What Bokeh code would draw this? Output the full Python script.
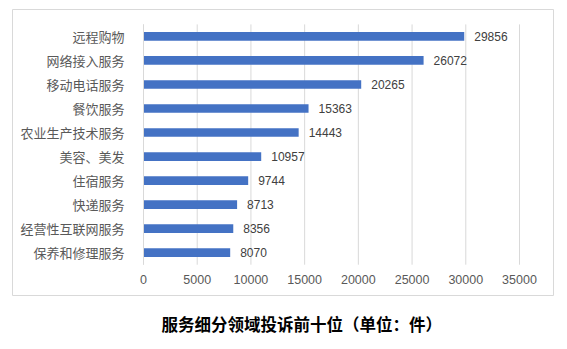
from bokeh.plotting import figure
from bokeh.models import (ColumnDataSource, Range1d, FixedTicker, Title, LabelSet)
from bokeh.core.properties import value
from bokeh.embed import file_html
from bokeh.resources import INLINE

categories = ["远程购物", "网络接入服务", "移动电话服务", "餐饮服务", "农业生产技术服务",
              "美容、美发", "住宿服务", "快递服务", "经营性互联网服务", "保养和修理服务"]
counts = [29856, 26072, 20265, 15363, 14443, 10957, 9744, 8713, 8356, 8070]
x_ticks = [0, 5000, 10000, 15000, 20000, 25000, 30000, 35000]
title_text = "服务细分领域投诉前十位（单位：件）"

n = len(categories)
rank = [n - i for i in range(n)]  # top category highest
src = ColumnDataSource(dict(cat=categories, y=rank, val=counts,
                            lbl=[str(v) for v in counts]))

# frame = outer bordered box; data area inside it
W, H = 567, 349
box_l, box_r, box_t, box_b = 12, 553, 9, 297
area_l, area_r, area_t, area_b = 143, 519, 24, 266
xmax = x_ticks[-1]
sx = xmax / (area_r - area_l)
band = (area_b - area_t) / n
x_range = Range1d(-(area_l - box_l) * sx, xmax + (box_r - area_r) * sx)
y_range = Range1d(0.5 - (box_b - area_b) / band, n + 0.5 + (area_t - box_t) / band)

p = figure(width=W, height=H, output_backend="svg", toolbar_location=None,
           x_range=x_range, y_range=y_range,
           min_border_left=box_l, min_border_right=W - box_r,
           min_border_top=box_t, min_border_bottom=H - box_b)
p.background_fill_color = "white"
p.border_fill_color = "white"
p.outline_line_color = "#d9d9d9"

# vertical gridlines limited to the plotting area
p.segment(x0=x_ticks, x1=x_ticks, y0=[0.5] * len(x_ticks), y1=[n + 0.5] * len(x_ticks),
          line_color="#d9d9d9", line_width=1)

p.hbar(y="y", right="val", left=0, height=0.36, source=src,
       fill_color="#4472C4", line_color=None)

labels = LabelSet(x="val", y="y", text="lbl", source=src, x_offset=10,
                  text_baseline="middle", text_font=value("Liberation Sans"),
                  text_font_size="12px", text_color="#404040")
p.add_layout(labels)

p.xgrid.grid_line_color = None
p.ygrid.grid_line_color = None

xa = p.xaxis[0]
xa.fixed_location = 0.5
xa.ticker = FixedTicker(ticks=x_ticks)
xa.axis_line_color = None
xa.major_tick_line_color = None
xa.minor_tick_line_color = None
xa.major_label_text_font = "Liberation Sans"
xa.major_label_text_font_size = "12.5px"
xa.major_label_text_color = "#595959"
xa.major_label_standoff = 4

ya = p.yaxis[0]
ya.fixed_location = 0
ya.bounds = (0.5, n + 0.5)
ya.ticker = FixedTicker(ticks=rank)
ya.major_label_overrides = {r: c for r, c in zip(rank, categories)}
ya.axis_line_color = "#d9d9d9"
ya.major_tick_line_color = None
ya.minor_tick_line_color = None
ya.major_label_text_font = "Noto Sans CJK SC"
ya.major_label_text_font_size = "13px"
ya.major_label_text_color = "#595959"
ya.major_label_standoff = 13

t = Title(text=title_text, align="left", offset=161 - box_l, text_font="Noto Sans CJK SC",
          text_font_size="16.5px", text_font_style="bold", text_color="#000000",
          standoff=28)
p.add_layout(t, "below")

open("out.html", "w").write(file_html(p, INLINE))
